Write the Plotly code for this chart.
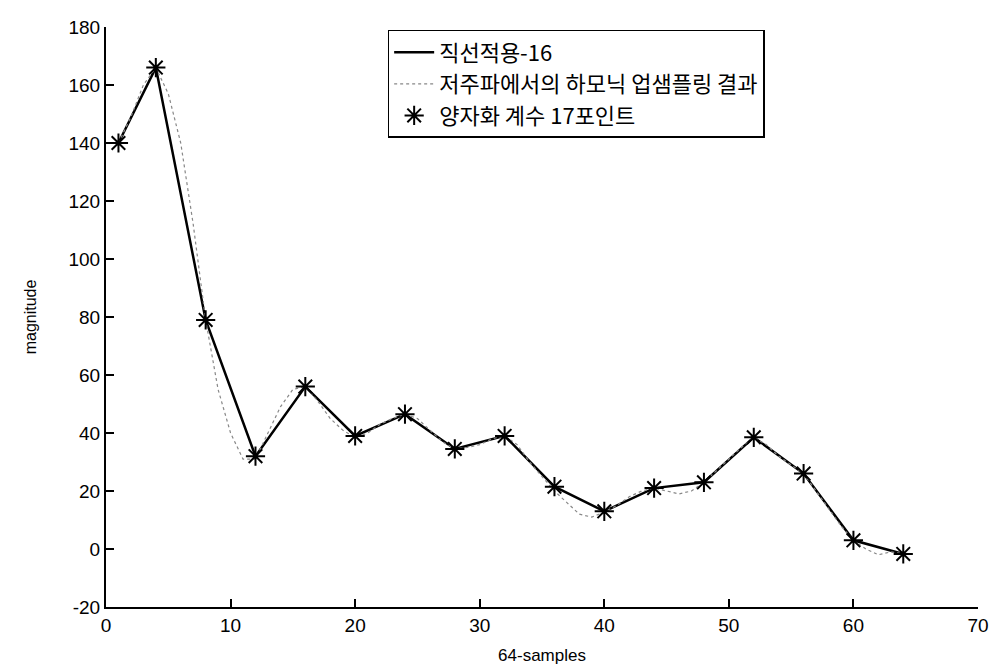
import plotly.graph_objects as go

# 17 quantized coefficient points
coef_x = [1, 4, 8, 12, 16, 20, 24, 28, 32, 36, 40, 44, 48, 52, 56, 60, 64]
coef_y = [140, 166, 79, 32, 56, 39, 46.5, 34.5, 39, 21.5, 13, 21, 23, 38.5, 26, 3, -1.7]

# harmonic upsampling result (64 samples)
up_x = list(range(1, 65))
up_y = [140, 149, 160, 166, 157, 140, 112, 79, 55, 40,
        31, 31, 40, 49, 55, 56, 51, 45, 41, 38.5,
        40, 43, 45, 46.5, 45, 41, 37, 34.5, 35, 36,
        38, 39, 36, 30, 25, 20, 16, 12, 11, 12.8,
        15, 18, 20, 21, 20, 19, 20, 23, 27, 31,
        35, 38.5, 36, 32, 29, 26, 20, 14, 8, 3,
        0, -2, -1, -1.7]

x_ticks = [0, 10, 20, 30, 40, 50, 60, 70]
y_ticks = [-20, 0, 20, 40, 60, 80, 100, 120, 140, 160, 180]
y_tick_text = ["-20", "0", "20", "40", "60", "80", "100", "120", "140", "160", "180"]

fig = go.Figure()
fig.add_trace(go.Scatter(
    x=coef_x, y=coef_y, mode="lines", name="직선적용-16",
    line=dict(color="black", width=2.5)))
fig.add_trace(go.Scatter(
    x=up_x, y=up_y, mode="lines", name="저주파에서의 하모닉 업샘플링 결과",
    line=dict(color="#888888", width=1.2, dash="dot")))
fig.add_trace(go.Scatter(
    x=coef_x, y=coef_y, mode="markers", name="양자화 계수 17포인트",
    marker=dict(symbol="asterisk-open", size=16, color="black",
                line=dict(color="black", width=2))))

axis_font = dict(family="Liberation Sans, Arial, sans-serif", size=19, color="black")
title_font = dict(family="Liberation Sans, Arial, sans-serif", size=17, color="black")

fig.update_layout(
    width=990, height=661,
    paper_bgcolor="white", plot_bgcolor="white",
    margin=dict(l=98, r=20, t=19, b=62),
    showlegend=True,
    legend=dict(
        x=0.323, y=0.995, xanchor="left", yanchor="top",
        bgcolor="white", bordercolor="black", borderwidth=1.5,
        font=dict(family="Noto Sans CJK KR", size=22, color="black"),
        itemwidth=40, tracegroupgap=0,
    ),
    xaxis=dict(
        range=[0, 70], tickvals=x_ticks, ticks="inside", ticklen=8, tickwidth=2,
        tickcolor="black", showline=True, linecolor="black", linewidth=2,
        showgrid=False, zeroline=False, tickfont=axis_font, automargin=False,
        title=dict(text="64-samples", font=title_font, standoff=14),
    ),
    yaxis=dict(
        range=[-20, 180], tickvals=y_ticks, ticktext=y_tick_text, ticks="inside", ticklen=8, tickwidth=2,
        tickcolor="black", showline=True, linecolor="black", linewidth=2,
        showgrid=False, zeroline=False, tickfont=axis_font, automargin=False,
        title=dict(text="magnitude", font=dict(family="Liberation Sans, Arial, sans-serif", size=16, color="black"), standoff=28),
    ),
)

fig.write_html("out.html")
